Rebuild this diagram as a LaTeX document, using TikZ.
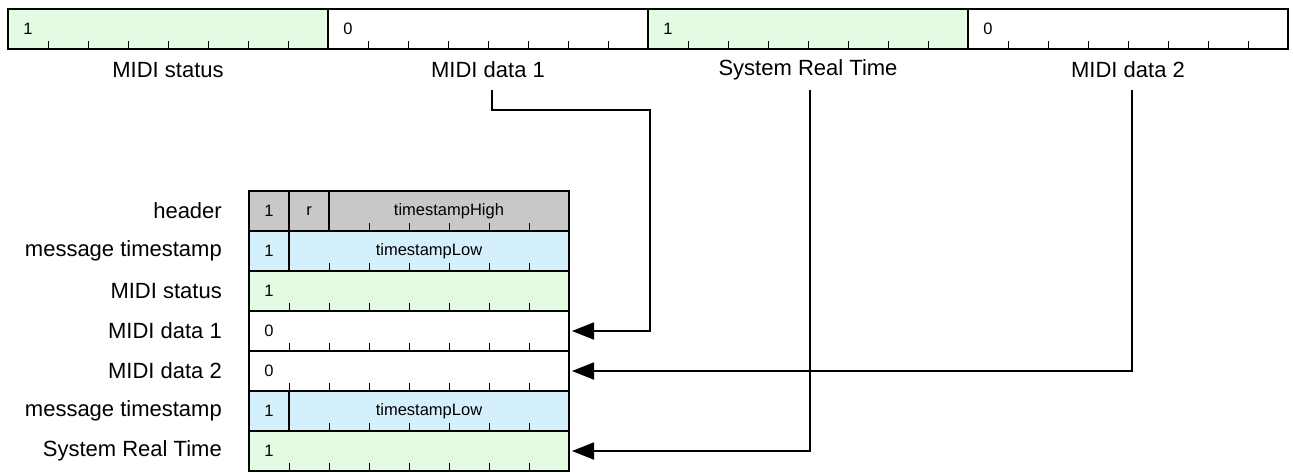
\documentclass[tikz,border=0pt]{standalone}
\usepackage{fontspec}
\setmainfont{Liberation Sans}
\usetikzlibrary{arrows.meta,calc}
\definecolor{gfill}{HTML}{E4FAE2}
\definecolor{bfill}{HTML}{D4F0FC}
\definecolor{hfill}{HTML}{C8C8C8}
\begin{document}
\begin{tikzpicture}[x=1pt,y=-1pt,
  cellbox/.style={draw=black,line width=2pt,inner sep=0pt,outer sep=0pt,minimum height=40pt,anchor=north west},
  bittext/.style={inner sep=0pt,font=\fontsize{16.5}{19}\selectfont},
  lab/.style={inner sep=0pt,font=\fontsize{22}{26}\selectfont},
  tickline/.style={line width=0.9pt},
  conn/.style={line width=1.8pt,-{Triangle[length=22pt,width=17pt]},shorten >=3pt}]
\useasboundingbox (0,0) rectangle (1293,472);
% ---- top row ----
\foreach \i/\col/\b/\lab in {0/gfill/1/MIDI status,1/white/0/MIDI data 1,2/gfill/1/System Real Time,3/white/0/MIDI data 2}{
  \node[cellbox,fill=\col,minimum width=320pt] (t\i) at (8+\i*320,9) {};
  \node[bittext] (tb\i) at ($(t\i.west)+(20,0)$) {\b};
  \foreach \k in {1,...,7}{\draw[tickline] ($(t\i.south west)+(\k*40,0)$) -- ++(0,-8);}
  \node[lab] (tl\i) at ($(t\i.south)+(0,21)$) {\lab};
}
% ---- lower stack ----
% header
\node[cellbox,fill=hfill,minimum width=40pt] (h1) at (249,191) {};
\node[bittext] (h1t) at (h1.center) {1};
\node[cellbox,fill=hfill,minimum width=40pt] (h2) at (289,191) {};
\node[bittext] (h2t) at (h2.center) {r};
\node[cellbox,fill=hfill,minimum width=240pt] (h3) at (329,191) {};
\node[bittext] (h3t) at (h3.center) {timestampHigh};
\foreach \k in {1,...,5}{\draw[tickline] ($(h3.south west)+(\k*40,0)$) -- ++(0,-8);}
% message timestamp rows
\foreach \r/\y in {2/231,6/391}{
  \node[cellbox,fill=bfill,minimum width=40pt] (m\r a) at (249,\y) {};
  \node[bittext] (m\r at) at (m\r a.center) {1};
  \node[cellbox,fill=bfill,minimum width=280pt] (r\r) at (289,\y) {};
  \node[bittext] (m\r bt) at (r\r.center) {timestampLow};
  \foreach \k in {1,...,6}{\draw[tickline] ($(r\r.south west)+(\k*40,0)$) -- ++(0,-8);}
}
% full rows
\foreach \r/\y/\col/\b in {3/271/gfill/1,4/311/white/0,5/351/white/0,7/431/gfill/1}{
  \node[cellbox,fill=\col,minimum width=320pt] (r\r) at (249,\y) {};
  \node[bittext] (r\r t) at ($(r\r.west)+(20,0)$) {\b};
  \foreach \k in {1,...,7}{\draw[tickline] ($(r\r.south west)+(\k*40,0)$) -- ++(0,-8);}
}
% left labels
\foreach \y/\lab [count=\n] in {211/header,251/message timestamp,291/MIDI status,331/MIDI data 1,371/MIDI data 2,411/message timestamp,451/System Real Time}{
  \node[lab,anchor=east] (ll\n) at (222,\y) {\lab};
}
% connectors
\coordinate (c1) at (492,90);
\coordinate (k1) at (650,110);
\coordinate (c2) at (810,90);
\coordinate (c3) at (1132,90);
\draw[conn] (c1) |- (k1) |- (r4.east);
\draw[conn] (c3) |- (r5.east);
\draw[conn] (c2) |- (r7.east);
\end{tikzpicture}
\end{document}
